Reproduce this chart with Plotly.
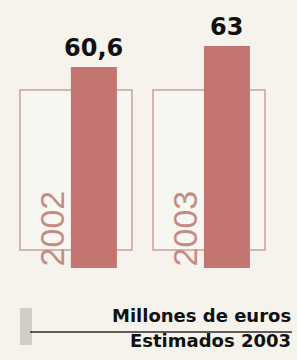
import plotly.graph_objects as go

# Data
years = ["2002", "2003"]
values = [60.6, 63.0]
value_labels = ["60,6", "63"]
unit_label = "Millones de euros"
note_label = "Estimados 2003"

W, H = 297, 360
BG = "#f5f3eb"
BAR = "#c47471"
BOX = "#c9a199"
YEAR_COL = "#c28c84"

fig = go.Figure()
fig.add_trace(go.Bar(
    x=years, y=values,
    width=0.346, offset=-0.038,
    marker=dict(color=BAR, line=dict(width=0)),
    hoverinfo="skip",
))

# Outline boxes behind each bar and rotated year labels
for i, yr in enumerate(years):
    fig.add_shape(type="rect", xref="x", yref="paper",
                  x0=i - 0.421, x1=i + 0.421,
                  y0=1 - 250 / H, y1=1 - 90 / H,
                  line=dict(color=BOX, width=1.5),
                  fillcolor="#f8f6f1", layer="below")
    fig.add_annotation(x=i - 0.177, y=1 - 268 / H, xref="x", yref="paper",
                       text=yr, textangle=-90, showarrow=False,
                       xanchor="center", yanchor="bottom",
                       font=dict(family="Liberation Sans", size=34, color=YEAR_COL))

# Value labels above bars
for i, (v, lab) in enumerate(zip(values, value_labels)):
    fig.add_annotation(x=i + 0.135, y=v, xref="x", yref="y",
                       text=lab, showarrow=False,
                       xanchor="center", yanchor="bottom", yshift=3,
                       font=dict(family="DejaVu Sans", size=24, color="#111111",
                                 weight="bold"))

# Footer decoration
fig.add_shape(type="rect", xref="paper", yref="paper",
              x0=20 / W, x1=32 / W, y0=1 - 345 / H, y1=1 - 308 / H,
              line=dict(width=0), fillcolor="#cfcec8")
fig.add_shape(type="line", xref="paper", yref="paper",
              x0=30 / W, x1=292 / W, y0=1 - 332 / H, y1=1 - 332 / H,
              line=dict(color="#2a2a2a", width=1.6))
fig.add_annotation(x=293 / W, y=1 - 328 / H, xref="paper", yref="paper",
                   text=unit_label, showarrow=False,
                   xanchor="right", yanchor="bottom",
                   font=dict(family="DejaVu Sans", size=18, color="#111111", weight="bold"))
fig.add_annotation(x=293 / W, y=1 - 353 / H, xref="paper", yref="paper",
                   text=note_label, showarrow=False,
                   xanchor="right", yanchor="bottom",
                   font=dict(family="DejaVu Sans", size=18, color="#111111", weight="bold"))

fig.update_layout(
    width=W, height=H,
    margin=dict(l=0, r=0, t=0, b=0),
    paper_bgcolor=BG, plot_bgcolor="rgba(0,0,0,0)",
    showlegend=False,
    xaxis=dict(type="category", range=[-0.571, 1.662], visible=False, fixedrange=True),
    yaxis=dict(range=[37.6, 68.26], domain=[1 - 268 / H, 1], visible=False, fixedrange=True),
)

fig.write_html(
    "out.html",
    config={"displayModeBar": False},
    post_script="document.body.style.margin='0';document.body.style.overflow='hidden';"
                "document.documentElement.style.overflow='hidden';",
)
